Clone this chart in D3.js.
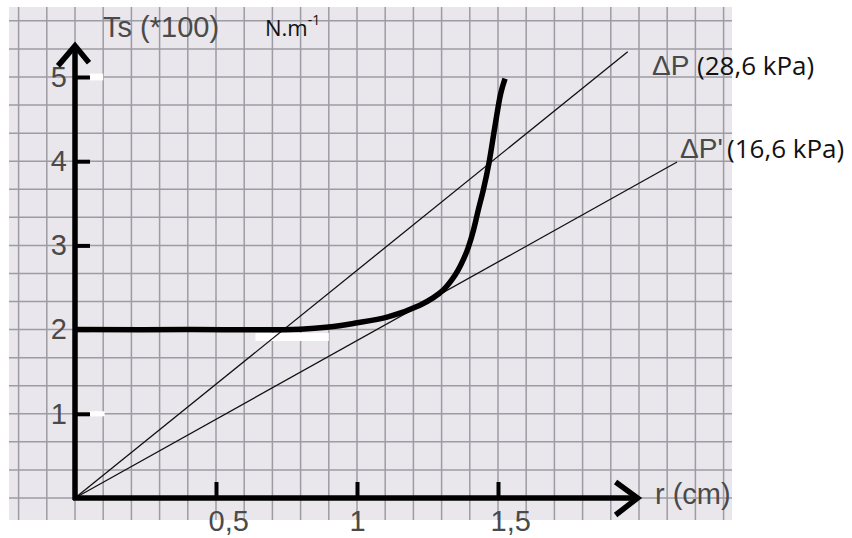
<!DOCTYPE html>
<html>
<head>
<meta charset="utf-8">
<script src="https://cdn.jsdelivr.net/npm/d3@7"></script>
<style>
  body { margin: 0; background: #fff; }
  svg { display: block; }
</style>
</head>
<body>
<svg id="svg" width="852" height="538"></svg>
<script>
// measured curve Ts(r), r in cm, Ts in units of 100 N/m
var curveR  = [0, 0.4, 0.8, 0.9, 0.99, 1.11, 1.223, 1.271, 1.306, 1.336, 1.359, 1.377, 1.395, 1.413, 1.430, 1.448, 1.468, 1.489, 1.510, 1.525];
var curveTs = [2, 2, 2.005, 2.03, 2.075, 2.15, 2.29, 2.38, 2.47, 2.59, 2.71, 2.83, 2.98, 3.18, 3.42, 3.66, 3.98, 4.41, 4.81, 4.98];

// straight lines from the origin (end points)
var lineNames = ["\u0394P", "\u0394P'"];
var lineLabels = ["(28,6 kPa)", "(16,6 kPa)"];
var lineEndR  = [1.96, 2.135];
var lineEndTs = [5.30, 3.99];

var xTicks = [0.5, 1, 1.5];
var xTickLabels = ["0,5", "1", "1,5"];
var yTicks = [1, 2, 3, 4, 5];
var yTickLabels = ["1", "2", "3", "4", "5"];

// white scan marks seen on the paper [r0, r1, ts0, ts1]
var patches = [[0.64, 0.90, 1.865, 1.96], [0.05, 0.10, 4.96, 5.04], [0.05, 0.105, 0.97, 1.03]];

var svg = d3.select("#svg");
var x = d3.scaleLinear().domain([0, 2]).range([75, 639]);
var y = d3.scaleLinear().domain([0, 5]).range([498, 77]);

// graph paper
var gridR = d3.range(-2, 24).map(function(k){ return k / 10; });
var gridT = d3.range(-1, 18).map(function(k){ return k / 3; });
svg.append("rect")
  .attr("x", 9).attr("y", 7)
  .attr("width", 723).attr("height", 513)
  .attr("fill", "#e9e7eb");
svg.append("g").selectAll("line")
  .data(gridR.filter(function(r){ return x(r) > 9 && x(r) < 732; }))
  .enter().append("line")
  .attr("x1", function(d){ return x(d); })
  .attr("x2", function(d){ return x(d); })
  .attr("y1", 7).attr("y2", 520)
  .attr("stroke", "#9c9ca4").attr("stroke-width", 1.5);
svg.append("g").selectAll("line")
  .data(gridT.filter(function(t){ return y(t) > 7 && y(t) < 520; }))
  .enter().append("line")
  .attr("y1", function(d){ return y(d); })
  .attr("y2", function(d){ return y(d); })
  .attr("x1", 9).attr("x2", 732)
  .attr("stroke", "#9c9ca4").attr("stroke-width", 1.5);

// white scan patches
svg.append("g").selectAll("rect")
  .data(patches)
  .enter().append("rect")
  .attr("x", function(d){ return x(d[0]); })
  .attr("width", function(d){ return x(d[1]) - x(d[0]); })
  .attr("y", function(d){ return y(d[3]); })
  .attr("height", function(d){ return y(d[2]) - y(d[3]); })
  .attr("fill", "#fff");

// thin pressure lines
svg.append("g").selectAll("line")
  .data(lineEndR)
  .enter().append("line")
  .attr("x1", x(0)).attr("y1", y(0))
  .attr("x2", function(d){ return x(d); })
  .attr("y2", function(d, i){ return y(lineEndTs[i]); })
  .attr("stroke", "#111").attr("stroke-width", 1.3);

// axes
var axisStyle = function(g) {
  g.select(".domain").remove();
  g.selectAll(".tick line").attr("stroke", "#000").attr("stroke-width", 4);
  g.selectAll(".tick text")
    .attr("fill", "#4a4a4a")
    .style("font-family", "Arial, 'Liberation Sans', sans-serif")
    .style("font-size", "29px");
};

svg.append("g")
  .attr("transform", "translate(0," + y(0) + ")")
  .call(d3.axisBottom(x).tickValues(xTicks)
    .tickFormat(function(d, i){ return xTickLabels[i]; })
    .tickSize(-16).tickPadding(12))
  .call(axisStyle)
  .selectAll(".tick text")
  .attr("text-anchor", "start").attr("x", -8);

svg.append("g")
  .attr("transform", "translate(" + x(0) + ",0)")
  .call(d3.axisLeft(y).tickValues(yTicks)
    .tickFormat(function(d, i){ return yTickLabels[i]; })
    .tickSize(-15).tickPadding(8))
  .call(axisStyle);

var xAxisEnd = 1.995, yAxisEnd = 5.37;
svg.append("line")
  .attr("x1", x(0) - 2).attr("y1", y(0))
  .attr("x2", x(xAxisEnd)).attr("y2", y(0))
  .attr("stroke", "#000").attr("stroke-width", 5.5);
svg.append("line")
  .attr("x1", x(0)).attr("y1", y(0) + 2)
  .attr("x2", x(0)).attr("y2", y(yAxisEnd))
  .attr("stroke", "#000").attr("stroke-width", 5.5);

// arrow heads
svg.append("path")
  .attr("d", "M" + (x(xAxisEnd) - 22) + "," + (y(0) - 16) + "L" + x(xAxisEnd) + "," + y(0) +
             "L" + (x(xAxisEnd) - 22) + "," + (y(0) + 17))
  .attr("fill", "none").attr("stroke", "#000").attr("stroke-width", 5.5);
svg.append("path")
  .attr("d", "M" + (x(0) - 17) + "," + (y(yAxisEnd) + 20) + "L" + x(0) + "," + y(yAxisEnd) +
             "L" + (x(0) + 14) + "," + (y(yAxisEnd) + 17))
  .attr("fill", "none").attr("stroke", "#000").attr("stroke-width", 5.5);

// the Ts(r) curve
var curve = d3.line()
  .x(function(d){ return x(d); })
  .y(function(d, i){ return y(curveTs[i]); })
  .curve(d3.curveCatmullRom.alpha(0.5));
svg.append("path")
  .attr("d", curve(curveR))
  .attr("fill", "none").attr("stroke", "#000")
  .attr("stroke-width", 5.5).attr("stroke-linecap", "butt");

// labels
var gray = "Arial, 'Liberation Sans', sans-serif";
var calib = "'Open Sans', 'Noto Sans', sans-serif";
svg.append("text").text("Ts (*100)")
  .attr("x", 103).attr("y", 37)
  .attr("fill", "#4a4a4a").style("font-family", gray).style("font-size", "29px");
var unit = svg.append("text")
  .attr("x", 265).attr("y", 36)
  .attr("fill", "#111").style("font-family", calib).style("font-size", "22px");
unit.append("tspan").text("N.m");
unit.append("tspan").text("-1").attr("dy", -11).style("font-size", "14px");

svg.append("text").text("r (cm)")
  .attr("x", 655).attr("y", 504)
  .attr("fill", "#4a4a4a").style("font-family", gray).style("font-size", "29px");

var nameX = [652, 680], nameY = [75, 158], kpaX = [697, 727];
lineNames.forEach(function(n, i) {
  svg.append("text").text(n)
    .attr("x", nameX[i]).attr("y", nameY[i])
    .attr("fill", "#4a4a4a").style("font-family", gray).style("font-size", "28px");
  svg.append("text").text(lineLabels[i])
    .attr("x", kpaX[i]).attr("y", nameY[i])
    .attr("fill", "#111").style("font-family", calib).style("font-size", "26px");
});
</script>
</body>
</html>
